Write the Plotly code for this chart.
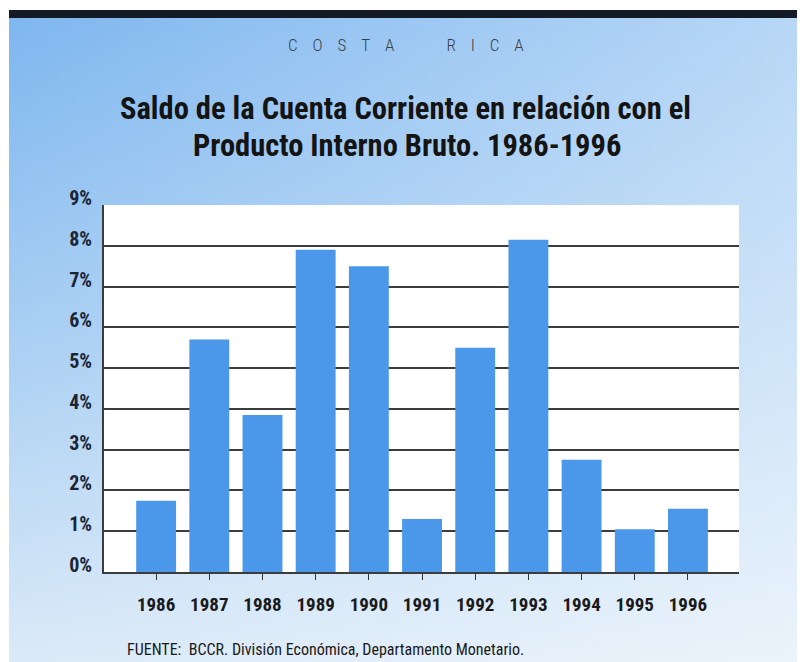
import base64
import plotly.graph_objects as go

# ---- data ----
years = ["1986", "1987", "1988", "1989", "1990", "1991", "1992", "1993", "1994", "1995", "1996"]
saldo_pct = [1.75, 5.7, 3.85, 7.9, 7.5, 1.3, 5.5, 8.15, 2.75, 1.05, 1.55]
y_ticks = [0, 1, 2, 3, 4, 5, 6, 7, 8, 9]
y_tick_text = [f"{v}%" for v in y_ticks]

country = "COSTA RICA"
title_l1 = "Saldo de la Cuenta Corriente en relación con el"
title_l2 = "Producto Interno Bruto. 1986-1996"
source = "FUENTE:  BCCR. División Económica, Departamento Monetario."

# page body has an 8px margin; figure covers 8..805 x 8..662 of the window
OFF = 8
W, H = 805 - OFF, 662 - OFF
def px(x):
    return (x - OFF) / W
def py(y):
    return 1 - (y - OFF) / H

COND = "Roboto Condensed, Roboto, sans-serif"
BAR = "#4b98ea"
GRID = "#3c3c3c"

# background gradient as svg
svg = f"""<svg xmlns='http://www.w3.org/2000/svg' width='{W}' height='{H}' viewBox='0 0 {W} {H}'>
<defs>
<linearGradient id='v' x1='0' y1='0' x2='0' y2='1'>
<stop offset='0' stop-color='#7db6ef'/><stop offset='0.5' stop-color='#a9cff3'/><stop offset='1' stop-color='#dbeaf8'/>
</linearGradient>
<linearGradient id='h' x1='0' y1='0' x2='1' y2='0'>
<stop offset='0' stop-color='#ffffff' stop-opacity='0'/><stop offset='1' stop-color='#ffffff' stop-opacity='0.45'/>
</linearGradient>
</defs>
<rect x='0' y='0' width='{W}' height='{H}' fill='#ffffff'/>
<rect x='1' y='2' width='{W-1}' height='{H-2}' fill='url(#v)'/>
<rect x='1' y='2' width='{W-1}' height='{H-2}' fill='url(#h)'/>
<rect x='1' y='2' width='{W-1}' height='8' fill='#141a26'/>
</svg>"""
svg_uri = "data:image/svg+xml;base64," + base64.b64encode(svg.encode()).decode()

fig = go.Figure()
fig.add_trace(go.Bar(
    x=years, y=saldo_pct, marker=dict(color=BAR, line=dict(width=0)), width=0.75,
    hoverinfo="x+y",
))

LETTER_GAP = "\u2003"
WORD_GAP = "\u2003\u2003\u2003\u2002"
country_text = WORD_GAP.join(LETTER_GAP.join(list(w)) for w in country.split(" "))

fig.update_layout(
    width=W, height=H,
    margin=dict(l=0, r=0, t=0, b=0),
    paper_bgcolor="white",
    plot_bgcolor="white",
    showlegend=False,
    images=[dict(source=svg_uri, xref="paper", yref="paper", x=0, y=1,
                 sizex=1, sizey=1, sizing="stretch", layer="below", xanchor="left", yanchor="top")],
    shapes=[dict(type="rect", xref="paper", yref="paper",
                 x0=px(104), x1=px(739), y0=py(572), y1=py(205),
                 fillcolor="white", line=dict(width=0), layer="below")],
    xaxis=dict(
        domain=[px(104), px(739)],
        type="category", range=[-0.98, 10.96],
        showgrid=False, showline=True, linecolor=GRID, linewidth=2,
        ticks="outside", ticklen=6, tickwidth=1, tickcolor="#333",
        ticklabelstandoff=8,
        tickfont=dict(family=COND, size=19, color="#1a1a1a", weight="bold"),
        automargin=False, fixedrange=True,
    ),
    yaxis=dict(
        domain=[py(572), py(205)],
        range=[0, 9], tickvals=y_ticks, ticktext=y_tick_text,
        showgrid=True, gridcolor=GRID, gridwidth=2,
        showline=True, linecolor=GRID, linewidth=2,
        zeroline=False, ticks="",
        ticklabelstandoff=6, ticklabelshift=-7,
        tickfont=dict(family=COND, size=20, color="#1c2535", weight="bold"),
        automargin=False, fixedrange=True,
    ),
    annotations=[
        dict(text=country_text,
             xref="paper", yref="paper", x=px(406), y=py(45), showarrow=False,
             xanchor="center", yanchor="middle",
             font=dict(family=COND, size=17, color="#3a3f48", weight=300)),
        dict(text=title_l1, xref="paper", yref="paper", x=px(405), y=py(108), showarrow=False,
             xanchor="center", yanchor="middle",
             font=dict(family=COND, size=30.5, color="#141414", weight="bold")),
        dict(text=title_l2, xref="paper", yref="paper", x=px(407), y=py(145), showarrow=False,
             xanchor="center", yanchor="middle",
             font=dict(family=COND, size=30.5, color="#141414", weight="bold")),
        dict(text=source, xref="paper", yref="paper", x=px(125), y=py(649), showarrow=False,
             xanchor="left", yanchor="middle",
             font=dict(family=COND, size=16, color="#1a1a1a")),
    ],
)

fig.write_html("out.html")
